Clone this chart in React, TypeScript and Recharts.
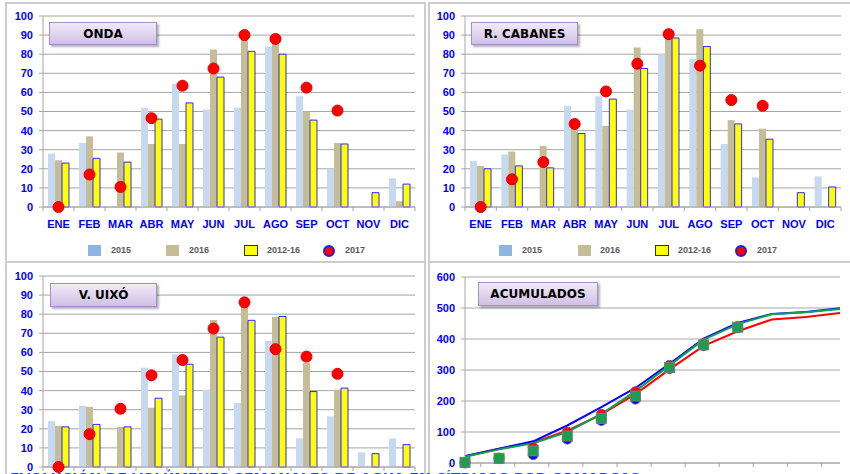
import React from "react";
import { ComposedChart, Bar, Line, XAxis, YAxis, CartesianGrid } from "recharts";

const MONTHS = ["ENE", "FEB", "MAR", "ABR", "MAY", "JUN", "JUL", "AGO", "SEP", "OCT", "NOV", "DIC"];

// ONDA
const ONDA_2015 = [28, 33.5, 0, 52, 64.5, 51, 52, 84, 58, 20, 0, 15];
const ONDA_2016 = [24.5, 37, 28.5, 33, 33, 82.5, 89, 90.5, 50, 33.5, 0, 3];
const ONDA_AVG = [23, 25.5, 23.5, 46, 54.5, 68, 81.5, 80, 45.5, 33, 7.5, 12];
const ONDA_2017 = [0, 17, 10.5, 46.5, 63.5, 72.5, 90, 88, 62.5, 50.5, null, null];

// R. CABANES
const CAB_2015 = [24, 27.5, 0, 53, 58, 51, 80, 77.5, 33, 15.5, 0, 16];
const CAB_2016 = [21.5, 29, 32, 41, 42.5, 83.5, 93, 93, 45.5, 41, 0, 0];
const CAB_AVG = [20, 21.5, 20.5, 38.5, 56.5, 72.5, 88.5, 84, 43.5, 35.5, 7.5, 10.5];
const CAB_2017 = [0, 14.5, 23.5, 43.5, 60.5, 75, 90.5, 74, 56, 53, null, null];

// V. UIXÓ
const UIXO_2015 = [24, 32, 0, 52, 59, 40.5, 33.5, 66, 15, 26.5, 7.7, 15];
const UIXO_2016 = [21.5, 31.5, 21, 31, 37.5, 77, 84, 78.5, 54.5, 40.5, 0, 0];
const UIXO_AVG = [21, 22.3, 21, 36, 53.8, 68, 76.8, 78.8, 39.5, 41.3, 7, 11.7];
const UIXO_2017 = [0, 17.2, 30.5, 48, 56, 72.5, 86.2, 61.7, 57.8, 48.8, null, null];

// ACUMULADOS
const CUM_BLUE = [22, 46, 70, 121, 180, 242, 320, 401, 452, 481, 487, 499];
const CUM_GREEN = [20, 44, 64, 100, 158, 232, 315, 398, 448, 480, 486, 497];
const CUM_RED = [22, 46, 66, 104, 157, 222, 302, 378, 425, 463, 471, 484];
const MK_RED = [2, 16, 50, 100, 157, 230, 315, 385, 440, null, null, null];
const MK_BLUE = [0, 14, 27, 77, 137, 206, 304, 378, 436, null, null, null];
const MK_GREEN = [2, 15, 39, 87, 144, 216, 308, 381, 438, null, null, null];

const PCT_TICKS = [0, 10, 20, 30, 40, 50, 60, 70, 80, 90, 100];
const CUM_TICKS = [0, 100, 200, 300, 400, 500, 600];

const FONT = "'Liberation Sans', Arial, sans-serif";
const TITLE_FONT = "'DejaVu Sans', Verdana, sans-serif";
const GRID = "#a6a6a6";
const BLUE_TXT = "#0000ff";

function monthRows(a: number[], b: number[], c: number[], d: (number | null)[]) {
  return MONTHS.map((m, i) => ({ m, y2015: a[i], y2016: b[i], avg: c[i], y2017: d[i] }));
}

const cumRows = MONTHS.map((m, i) => ({
  m,
  blue: CUM_BLUE[i],
  green: CUM_GREEN[i],
  red: CUM_RED[i],
  mr: MK_RED[i],
  mb: MK_BLUE[i],
  mg: MK_GREEN[i],
}));

// month label + small tick marks on the category boundaries
function MonthTick(props: any) {
  const { x, y, payload, index, slot, showLabel } = props;
  return (
    <g>
      <line x1={x + slot / 2} y1={y} x2={x + slot / 2} y2={y + 4} stroke={GRID} />
      {index === 0 && <line x1={x - slot / 2} y1={y} x2={x - slot / 2} y2={y + 4} stroke={GRID} />}
      {showLabel && (
        <text
          x={x}
          y={y + 21}
          textAnchor="middle"
          fill={BLUE_TXT}
          fontSize={11}
          fontWeight="bold"
          fontFamily={FONT}
        >
          {payload.value}
        </text>
      )}
    </g>
  );
}

const yTick = { fill: BLUE_TXT, fontSize: 11, fontWeight: "bold", fontFamily: FONT };

function SquareDot(props: any) {
  const { cx, cy } = props;
  if (cx == null || cy == null) return <g />;
  return <rect x={cx - 5} y={cy - 5} width={10} height={10} fill="#1a9e50" stroke="#7a7a7a" strokeWidth={1} />;
}

interface BarPanelProps {
  left: number;
  top: number;
  width: number;
  yAxisW: number;
  right: number;
  data: any[];
  showLabels: boolean;
}

function BarPanel({ left, top, width, yAxisW, right, data, showLabels }: BarPanelProps) {
  const slot = (width - yAxisW - right) / 12;
  return (
    <div style={{ position: "absolute", left, top }}>
      <ComposedChart
        width={width}
        height={262}
        data={data}
        barSize={7}
        barGap={0}
        margin={{ top: 16, right, bottom: 25, left: 0 }}
      >
        <CartesianGrid vertical={false} stroke={GRID} />
        <XAxis
          dataKey="m"
          height={30}
          axisLine={{ stroke: GRID }}
          tickLine={false}
          tickSize={0}
          tickMargin={0}
          interval={0}
          tick={(p: any) => <MonthTick {...p} slot={slot} showLabel={showLabels} />}
        />
        <YAxis
          width={yAxisW}
          domain={[0, 100]}
          ticks={PCT_TICKS}
          interval={0}
          axisLine={{ stroke: GRID }}
          tickLine={{ stroke: GRID }}
          tickSize={4}
          tickMargin={6}
          tick={yTick}
        />
        <Bar dataKey="y2015" fill="#c6d9f1" isAnimationActive={false} />
        <Bar dataKey="y2016" fill="#c4bd97" isAnimationActive={false} />
        <Bar dataKey="avg" fill="#ffff00" stroke="#2b2bff" strokeWidth={1} isAnimationActive={false} />
        <Line
          dataKey="y2017"
          stroke="none"
          dot={{ r: 5.5, fill: "#ff0000", stroke: "#e00000", strokeWidth: 1 }}
          activeDot={false}
          isAnimationActive={false}
        />
      </ComposedChart>
    </div>
  );
}

function TitleBox({ left, top, width, height, text }: { left: number; top: number; width: number; height: number; text: string }) {
  return (
    <div
      style={{
        position: "absolute",
        left,
        top,
        width,
        height,
        boxSizing: "border-box",
        border: "1px solid #a48fc4",
        background: "linear-gradient(#f1eaf9, #cfc0e4)",
        boxShadow: "2px 2px 2px rgba(0,0,0,0.3)",
        display: "flex",
        alignItems: "center",
        justifyContent: "center",
        fontFamily: TITLE_FONT,
        fontWeight: "bold",
        fontSize: 12,
        color: "#000",
      }}
    >
      {text}
    </div>
  );
}

function PanelLegend({ xs, top }: { xs: number[][]; top: number }) {
  const labels = ["2015", "2016", "2012-16", "2017"];
  const txt: React.CSSProperties = {
    position: "absolute",
    top: top - 1,
    fontFamily: FONT,
    fontWeight: "bold",
    fontSize: 9,
    color: "#595959",
    lineHeight: "13px",
  };
  return (
    <>
      <div style={{ position: "absolute", left: xs[0][0], top, width: 13, height: 11, background: "#8db4e2" }} />
      <div style={{ position: "absolute", left: xs[1][0], top, width: 13, height: 11, background: "#c4bd97" }} />
      <div
        style={{
          position: "absolute",
          left: xs[2][0],
          top,
          width: 14,
          height: 11,
          boxSizing: "border-box",
          background: "#ffff00",
          border: "1.5px solid #333",
        }}
      />
      <div
        style={{
          position: "absolute",
          left: xs[3][0],
          top: top - 0.5,
          width: 12,
          height: 12,
          boxSizing: "border-box",
          borderRadius: "50%",
          background: "#ff0000",
          border: "2px solid #1f1fdf",
        }}
      />
      {labels.map((l, i) => (
        <div key={l} style={{ ...txt, left: xs[i][1] }}>
          {l}
        </div>
      ))}
    </>
  );
}

export default function App() {
  return (
    <div style={{ position: "relative", width: 850, height: 474, overflow: "hidden", background: "#fff" }}>
      <style>{`body{margin:0}`}</style>

      {/* panel frames */}
      <div style={{ position: "absolute", left: 5, top: 2, width: 421, height: 261, boxSizing: "border-box", border: "2px solid #cdcdcd" }} />
      <div style={{ position: "absolute", left: 428, top: 2, width: 430, height: 261, boxSizing: "border-box", border: "2px solid #cdcdcd" }} />
      <div style={{ position: "absolute", left: 5, top: 261, width: 421, height: 230, boxSizing: "border-box", border: "2px solid #cdcdcd" }} />
      <div style={{ position: "absolute", left: 428, top: 261, width: 430, height: 230, boxSizing: "border-box", border: "2px solid #cdcdcd" }} />

      <BarPanel left={0} top={0} width={426} yAxisW={43} right={11} showLabels data={monthRows(ONDA_2015, ONDA_2016, ONDA_AVG, ONDA_2017)} />
      <BarPanel left={425} top={0} width={425} yAxisW={40} right={9} showLabels data={monthRows(CAB_2015, CAB_2016, CAB_AVG, CAB_2017)} />
      <BarPanel left={0} top={260} width={426} yAxisW={43} right={11} showLabels={false} data={monthRows(UIXO_2015, UIXO_2016, UIXO_AVG, UIXO_2017)} />

      <div style={{ position: "absolute", left: 425, top: 260 }}>
        <ComposedChart width={425} height={262} data={cumRows} margin={{ top: 17, right: 10, bottom: 29, left: 0 }}>
          <CartesianGrid vertical={false} stroke={GRID} />
          <XAxis
            dataKey="m"
            height={30}
            axisLine={{ stroke: GRID }}
            tickLine={false}
            tickSize={0}
            tickMargin={0}
            interval={0}
            tick={(p: any) => <MonthTick {...p} slot={375 / 12} showLabel={false} />}
          />
          <YAxis
            width={40}
            domain={[0, 600]}
            ticks={CUM_TICKS}
            interval={0}
            axisLine={{ stroke: GRID }}
            tickLine={{ stroke: GRID }}
            tickSize={4}
            tickMargin={6}
            tick={yTick}
          />
          <Line dataKey="red" type="linear" stroke="#ff0000" strokeWidth={2} dot={false} isAnimationActive={false} />
          <Line dataKey="blue" type="linear" stroke="#0000ff" strokeWidth={2} dot={false} isAnimationActive={false} />
          <Line dataKey="green" type="linear" stroke="#10a050" strokeWidth={2} dot={false} isAnimationActive={false} />
          <Line dataKey="mr" stroke="none" dot={{ r: 5, fill: "#ff0000", stroke: "#8a5a7a", strokeWidth: 1 }} activeDot={false} isAnimationActive={false} />
          <Line dataKey="mb" stroke="none" dot={{ r: 5, fill: "#0000ff", stroke: "#6a6aa0", strokeWidth: 1 }} activeDot={false} isAnimationActive={false} />
          <Line dataKey="mg" stroke="none" dot={(p: any) => <SquareDot key={p.index} {...p} />} activeDot={false} isAnimationActive={false} />
        </ComposedChart>
      </div>

      <TitleBox left={49} top={22} width={108} height={23} text="ONDA" />
      <TitleBox left={471} top={22} width={107} height={23} text="R. CABANES" />
      <TitleBox left={50} top={283} width={107} height={24} text="V. UIXÓ" />
      <TitleBox left={478} top={282} width={120} height={24} text="ACUMULADOS" />

      <PanelLegend top={245} xs={[[88, 111], [166, 189], [244, 267], [323, 345]]} />
      <PanelLegend top={245} xs={[[499, 522], [578, 600], [655, 678], [735, 757]]} />

      <div
        style={{
          position: "absolute",
          left: 10,
          top: 470,
          whiteSpace: "nowrap",
          fontFamily: TITLE_FONT,
          fontWeight: "bold",
          fontSize: 14,
          color: "#1f3fff",
        }}
      >
        EVOLUCIÓN DE VOLÚMENES SEMANALES DE AGUA EN CÍTRICOS POR COMARCAS
      </div>
    </div>
  );
}
